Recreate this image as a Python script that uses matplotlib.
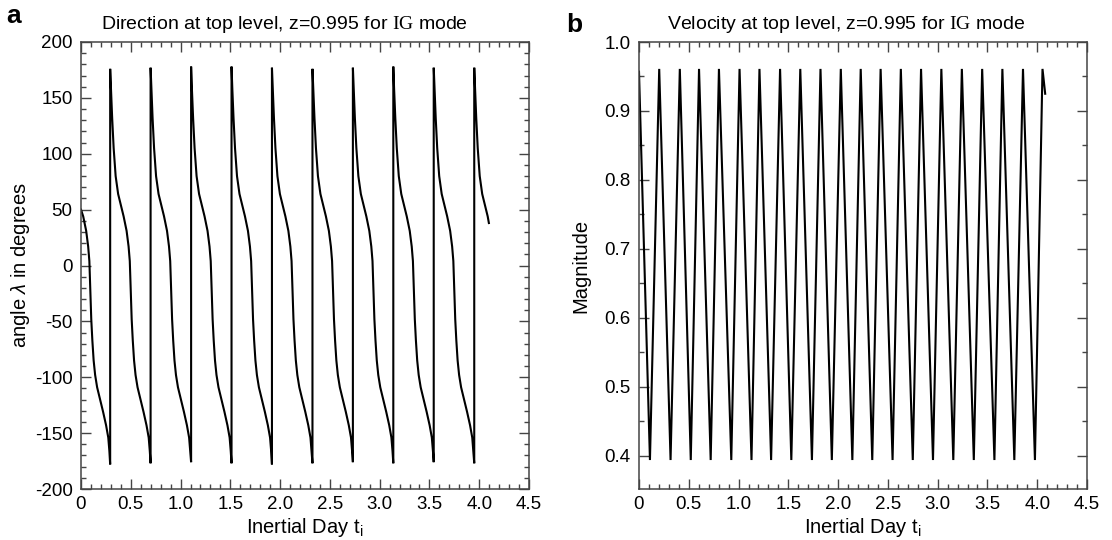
import matplotlib
matplotlib.use("Agg")
import matplotlib.pyplot as plt
from matplotlib.ticker import MultipleLocator

plt.rcParams['font.family'] = ['Liberation Sans', 'DejaVu Sans']
plt.rcParams['mathtext.fontset'] = 'custom'
plt.rcParams['mathtext.rm'] = 'Liberation Sans'
plt.rcParams['mathtext.it'] = 'Liberation Sans:italic'
plt.rcParams['mathtext.sf'] = 'Liberation Serif'
plt.rcParams['axes.unicode_minus'] = False

# ---------------- data: panel a (direction angle, degrees) ----------------
t_dir = [
    0.000, 0.022, 0.052, 0.072, 0.084, 0.093, 0.103, 0.114, 0.127, 0.142, 0.162, 0.187, 0.222, 0.252, 0.274, 0.285, 0.293,
    0.293, 0.301, 0.313, 0.328, 0.348, 0.373, 0.398, 0.428, 0.458, 0.478, 0.490, 0.499, 0.509, 0.520, 0.533, 0.548, 0.568, 0.593, 0.628, 0.658, 0.680, 0.691, 0.699,
    0.699, 0.707, 0.719, 0.734, 0.754, 0.779, 0.804, 0.834, 0.864, 0.884, 0.896, 0.905, 0.915, 0.926, 0.939, 0.954, 0.974, 0.999, 1.034, 1.064, 1.086, 1.097, 1.106,
    1.106, 1.114, 1.126, 1.141, 1.161, 1.186, 1.211, 1.241, 1.271, 1.291, 1.303, 1.312, 1.322, 1.333, 1.346, 1.361, 1.381, 1.406, 1.441, 1.471, 1.493, 1.504, 1.512,
    1.512, 1.520, 1.532, 1.547, 1.567, 1.592, 1.617, 1.647, 1.677, 1.697, 1.709, 1.718, 1.728, 1.739, 1.752, 1.767, 1.787, 1.812, 1.847, 1.877, 1.899, 1.910, 1.918,
    1.918, 1.926, 1.938, 1.953, 1.973, 1.998, 2.023, 2.053, 2.083, 2.103, 2.115, 2.124, 2.134, 2.145, 2.158, 2.173, 2.193, 2.218, 2.253, 2.283, 2.305, 2.316, 2.325,
    2.325, 2.333, 2.345, 2.360, 2.380, 2.405, 2.430, 2.460, 2.490, 2.510, 2.522, 2.531, 2.541, 2.552, 2.565, 2.580, 2.600, 2.625, 2.660, 2.690, 2.712, 2.723, 2.731,
    2.731, 2.739, 2.751, 2.766, 2.786, 2.811, 2.836, 2.866, 2.896, 2.916, 2.928, 2.937, 2.947, 2.958, 2.971, 2.986, 3.006, 3.031, 3.066, 3.096, 3.118, 3.129, 3.137,
    3.137, 3.145, 3.157, 3.172, 3.192, 3.217, 3.242, 3.272, 3.302, 3.322, 3.334, 3.343, 3.353, 3.364, 3.377, 3.392, 3.412, 3.437, 3.472, 3.502, 3.524, 3.535, 3.543,
    3.543, 3.551, 3.563, 3.578, 3.598, 3.623, 3.648, 3.678, 3.708, 3.728, 3.740, 3.749, 3.759, 3.770, 3.783, 3.798, 3.818, 3.843, 3.878, 3.908, 3.930, 3.941, 3.950,
    3.950, 3.958, 3.970, 3.985, 4.005, 4.030, 4.055, 4.085, 4.097,
]
angle_dir = [
    50, 44, 31, 17, 4, -20, -48, -67, -85, -98, -109, -118, -131, -143, -154, -166, -178,
    176, 158, 132, 105, 80, 64, 55, 44, 31, 17, 4, -20, -48, -67, -85, -98, -109, -118, -131, -143, -154, -166, -177,
    177, 158, 132, 105, 80, 64, 55, 44, 31, 17, 4, -20, -48, -67, -85, -98, -109, -118, -131, -143, -154, -166, -176,
    178, 158, 132, 105, 80, 64, 55, 44, 31, 17, 4, -20, -48, -67, -85, -98, -109, -118, -131, -143, -154, -166, -177,
    178, 158, 132, 105, 80, 64, 55, 44, 31, 17, 4, -20, -48, -67, -85, -98, -109, -118, -131, -143, -154, -166, -178,
    177, 158, 132, 105, 80, 64, 55, 44, 31, 17, 4, -20, -48, -67, -85, -98, -109, -118, -131, -143, -154, -166, -177,
    176, 158, 132, 105, 80, 64, 55, 44, 31, 17, 4, -20, -48, -67, -85, -98, -109, -118, -131, -143, -154, -166, -176,
    177, 158, 132, 105, 80, 64, 55, 44, 31, 17, 4, -20, -48, -67, -85, -98, -109, -118, -131, -143, -154, -166, -177,
    178, 158, 132, 105, 80, 64, 55, 44, 31, 17, 4, -20, -48, -67, -85, -98, -109, -118, -131, -143, -154, -166, -176,
    177, 158, 132, 105, 80, 64, 55, 44, 31, 17, 4, -20, -48, -67, -85, -98, -109, -118, -131, -143, -154, -166, -177,
    177, 158, 132, 105, 80, 64, 55, 44, 38,
]

# ---------------- data: panel b (velocity magnitude) ----------------
t_vel = [
    0.000, 0.110, 0.203, 0.317, 0.410, 0.520, 0.603, 0.720, 0.803, 0.927,
    1.010, 1.130, 1.210, 1.327, 1.417, 1.530, 1.620, 1.737, 1.823, 1.937,
    2.027, 2.143, 2.227, 2.343, 2.427, 2.547, 2.630, 2.750, 2.833, 2.953,
    3.037, 3.157, 3.243, 3.363, 3.447, 3.570, 3.650, 3.770, 3.857, 3.977,
    4.053, 4.080,
]
mag_vel = [
    0.957, 0.394, 0.961, 0.394, 0.961, 0.394, 0.961, 0.394, 0.961, 0.394,
    0.961, 0.394, 0.961, 0.394, 0.961, 0.394, 0.961, 0.394, 0.961, 0.394,
    0.961, 0.394, 0.961, 0.394, 0.961, 0.394, 0.961, 0.394, 0.961, 0.394,
    0.961, 0.394, 0.961, 0.394, 0.961, 0.394, 0.961, 0.394, 0.961, 0.394,
    0.961, 0.925,
]

titles = [r"Direction at top level, z=0.995 for $\mathsf{IG}$ mode",
          r"Velocity at top level, z=0.995 for $\mathsf{IG}$ mode"]
xlabel = r"Inertial Day t$_{\mathrm{i}}$"
ylabels = [r"angle $\lambda$ in degrees", "Magnitude"]
panel_letters = ["a", "b"]
xtick_vals = [0, 0.5, 1.0, 1.5, 2.0, 2.5, 3.0, 3.5, 4.0, 4.5]
xtick_labels = ['0', '0.5', '1.0', '1.5', '2.0', '2.5', '3.0', '3.5', '4.0', '4.5']
ytick_vals_b = [0.4, 0.5, 0.6, 0.7, 0.8, 0.9, 1.0]
ytick_labels_b = ['0.4', '0.5', '0.6', '0.7', '0.8', '0.9', '1.0']

W, H = 1112, 540
fig = plt.figure(figsize=(W / 100, H / 100), dpi=100)
axa = fig.add_axes([81 / W, 1 - 489 / H, 448 / W, 447 / H])
axb = fig.add_axes([639 / W, 1 - 489 / H, 448 / W, 447 / H])

spine_col = '#444444'
for ax in (axa, axb):
    ax.set_xlim(0, 4.5)
    ax.set_xticks(xtick_vals)
    ax.set_xticklabels(xtick_labels)
    ax.xaxis.set_minor_locator(MultipleLocator(0.1))
    ax.tick_params(which='both', direction='in', top=True, right=True,
                   color=spine_col, labelsize=13.5, labelcolor='black')
    ax.tick_params(which='major', length=7.5, width=1.0)
    ax.tick_params(which='minor', length=3.8, width=1.0)
    ax.tick_params(axis='y', pad=6)
    ax.tick_params(axis='x', pad=5)
    for s in ax.spines.values():
        s.set_color(spine_col)
        s.set_linewidth(1.1)
    ax.set_xlabel(xlabel, fontsize=14.5, labelpad=2)

axa.plot(t_dir, angle_dir, color='black', lw=1.5, solid_joinstyle='miter')
axa.set_ylim(-200, 200)
axa.yaxis.set_major_locator(MultipleLocator(50))
axa.yaxis.set_minor_locator(MultipleLocator(10))
axa.set_ylabel(ylabels[0], fontsize=14.5, labelpad=2)

axb.plot(t_vel, mag_vel, color='black', lw=1.5, solid_joinstyle='miter')
axb.set_ylim(0.352, 1.0)
axb.set_yticks(ytick_vals_b)
axb.set_yticklabels(ytick_labels_b)
axb.yaxis.set_minor_locator(MultipleLocator(0.05))
axb.set_ylabel(ylabels[1], fontsize=14.5, labelpad=10)

for ax, ttl, cx in ((axa, titles[0], 0.455), (axb, titles[1], 0.462)):
    ax.annotate(ttl, xy=(cx, 1.0), xycoords='axes fraction', xytext=(0, 9.5),
                textcoords='offset points', ha='center', va='baseline', fontsize=14)

fig.text(6 / W, 1 - 23 / H, panel_letters[0], fontsize=19, fontweight='bold', ha='left', va='baseline')
fig.text(566 / W, 1 - 32 / H, panel_letters[1], fontsize=19, fontweight='bold', ha='left', va='baseline')

fig.savefig("out.png", dpi=100, facecolor='white')
